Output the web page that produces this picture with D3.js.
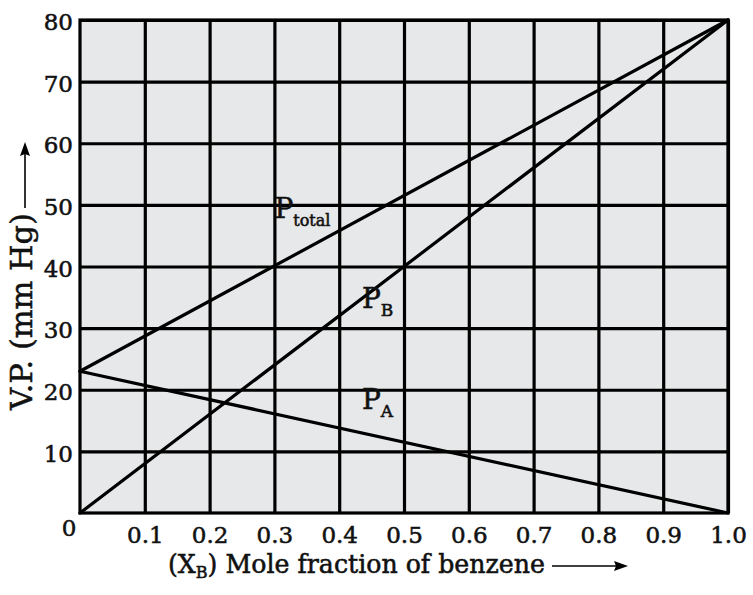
<!DOCTYPE html>
<html>
<head>
<meta charset="utf-8">
<script src="https://cdn.jsdelivr.net/npm/d3@7"></script>
<style>
  html, body { margin: 0; padding: 0; background: #ffffff; }
  svg { display: block; }
  text { font-family: "DejaVu Serif", "Liberation Serif", serif; fill: #111; stroke: #111; stroke-width: 0.55px; }
</style>
</head>
<body>
<svg id="chart" width="753" height="595"></svg>
<script>
// ---- data ----
const xB = [0, 1];                 // mole fraction of benzene
const pA = [23, 0];                // partial pressure of toluene (A)
const pB = [0, 80];                // partial pressure of benzene (B)
const pTotal = [23, 80];           // total vapour pressure
const xTickValues = [0.1, 0.2, 0.3, 0.4, 0.5, 0.6, 0.7, 0.8, 0.9, 1.0];
const xTickLabels = ["0.1", "0.2", "0.3", "0.4", "0.5", "0.6", "0.7", "0.8", "0.9", "1.0"];
const yTickValues = [10, 20, 30, 40, 50, 60, 70, 80];
const yTickLabels = ["10", "20", "30", "40", "50", "60", "70", "80"];
const seriesNames = [["P", "total"], ["P", "B"], ["P", "A"]];
const xTitle = ["(X", "B", ") Mole fraction of benzene"];
const yTitle = "V.P. (mm Hg)";

// ---- layout ----
const svg = d3.select("#chart");
const L = 80, R = 728, T = 20, B = 513;
const x = d3.scaleLinear().domain([0, 1]).range([L, R]);
const y = d3.scaleLinear().domain([0, 80]).range([B, T]);

svg.append("rect").attr("x", L).attr("y", T).attr("width", R - L).attr("height", B - T)
  .attr("fill", "#e7e8e9");

// grid via axes
const gx = svg.append("g").attr("transform", `translate(0,${B})`)
  .call(d3.axisBottom(x).tickValues(xTickValues)
    .tickFormat((d, i) => xTickLabels[i]).tickSize(-(B - T)).tickPadding(14));
const gy = svg.append("g").attr("transform", `translate(${L},0)`)
  .call(d3.axisLeft(y).tickValues(yTickValues)
    .tickFormat((d, i) => yTickLabels[i]).tickSize(-(R - L)).tickPadding(7));
[gx, gy].forEach(g => {
  g.select(".domain").remove();
  g.selectAll(".tick line").attr("stroke", "#000").attr("stroke-width", 3.2);
  g.selectAll(".tick text").attr("font-size", 23).attr("fill", "#111")
    .style("font-family", '"DejaVu Serif", serif');
});
gy.selectAll(".tick text").attr("dy", "0.42em");

// frame
svg.append("rect").attr("x", L).attr("y", T).attr("width", R - L).attr("height", B - T)
  .attr("fill", "none").attr("stroke", "#000").attr("stroke-width", 3.2);

// origin label
svg.append("text").attr("x", L - 11).attr("y", B + 23).attr("text-anchor", "middle")
  .attr("font-size", 23).text("0");

// data lines
const line = d3.line().x((d, i) => x(xB[i])).y(d => y(d));
[pTotal, pB, pA].forEach(s => {
  svg.append("path").datum(s).attr("d", line)
    .attr("fill", "none").attr("stroke", "#000").attr("stroke-width", 3.2)
    .attr("stroke-linecap", "round");
});

// series labels (anchor in data coords)
const labelAnchors = [[0.3, 47.8], [0.435, 33.2], [0.435, 16.8]];
seriesNames.forEach((nm, i) => {
  const t = svg.append("text").attr("x", x(labelAnchors[i][0])).attr("y", y(labelAnchors[i][1]))
    .attr("font-size", 28);
  t.append("tspan").text(nm[0]);
  t.append("tspan").attr("font-size", nm[1].length > 1 ? 16 : 17).attr("dy", 8).text(nm[1]);
});

// x title
const xt = svg.append("text").attr("x", 168).attr("y", 573).attr("font-size", 22);
xt.append("tspan").text(xTitle[0]);
xt.append("tspan").attr("font-size", 14).attr("dy", 5).text(xTitle[1]);
xt.append("tspan").attr("dy", -5).text(xTitle[2]);
const xw = xt.node().getComputedTextLength();
const xs = 377 / xw;
xt.attr("font-size", 22 * xs);
xt.selectAll("tspan").filter((d, i) => i === 1).attr("font-size", 14 * xs);
// arrow
svg.append("line").attr("x1", 552).attr("x2", 620).attr("y1", 566).attr("y2", 566)
  .attr("stroke", "#000").attr("stroke-width", 1.6);
svg.append("path").attr("d", "M628,566 L614,561 L616,566 L614,571 Z").attr("fill", "#000");

// y title
const yt = svg.append("text").attr("transform", "translate(32,410) rotate(-90)")
  .attr("font-size", 22).text(yTitle);
const yw = yt.node().getComputedTextLength();
yt.attr("font-size", 22 * 197 / yw);
svg.append("line").attr("x1", 25).attr("x2", 25).attr("y1", 208).attr("y2", 150)
  .attr("stroke", "#000").attr("stroke-width", 1.6);
svg.append("path").attr("d", "M25,142 L20,156 L25,154 L30,156 Z").attr("fill", "#000");
</script>
</body>
</html>
